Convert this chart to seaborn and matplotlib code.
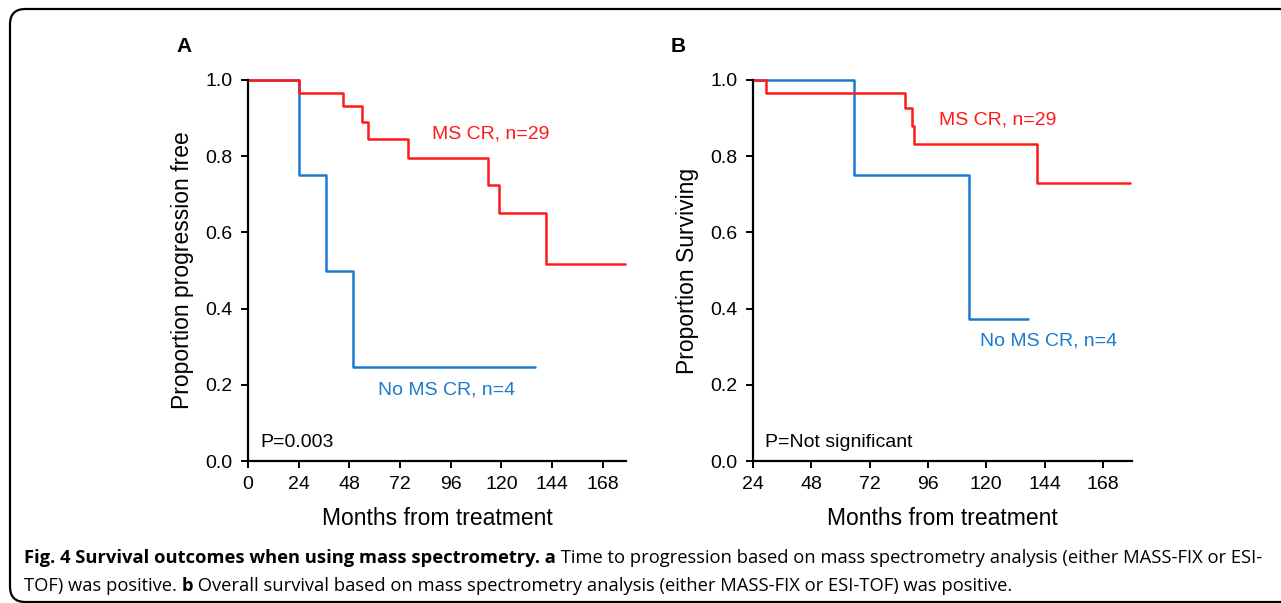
import numpy as np
import pandas as pd
import matplotlib
matplotlib.use("Agg")
import matplotlib.pyplot as plt
from matplotlib.patches import FancyBboxPatch
import seaborn as sns

# ------------------ DATA ------------------

GROUPS = ["No MS CR", "MS CR"]

# panel A: time to progression
a_cr_months = [0, 24, 45, 54, 57, 76, 113.5, 119, 141, 178.5]
a_cr_prop = [1.0, 0.966, 0.931, 0.889, 0.845, 0.796, 0.725, 0.652, 0.516, 0.516]
a_no_months = [0, 24, 37, 49.5, 136]
a_no_prop = [1.0, 0.75, 0.5, 0.246, 0.246]

# panel B: overall survival
b_cr_months = [24, 29.3, 86.5, 89.5, 90.4, 141, 179]
b_cr_prop = [1.0, 0.966, 0.926, 0.878, 0.831, 0.73, 0.73]
b_no_months = [24, 65.7, 113, 137]
b_no_prop = [1.0, 0.75, 0.373, 0.373]

a_xticks = [0, 24, 48, 72, 96, 120, 144, 168]
b_xticks = [24, 48, 72, 96, 120, 144, 168]
yticks = [0.0, 0.2, 0.4, 0.6, 0.8, 1.0]

caption_1 = [
    ("Fig. 4 Survival outcomes when using mass spectrometry. a", "bold"),
    (" Time to progression based on mass spectrometry analysis (either MASS-FIX or ESI-", "normal"),
]
caption_2 = [
    ("TOF) was positive. ", "normal"),
    ("b", "bold"),
    (" Overall survival based on mass spectrometry analysis (either MASS-FIX or ESI-TOF) was positive.", "normal"),
]

# ------------------ STYLE ------------------

sns.set_style("ticks")
plt.rcParams["font.family"] = ["Liberation Sans", "DejaVu Sans"]
plt.rcParams["text.color"] = "black"
plt.rcParams["axes.labelcolor"] = "black"
plt.rcParams["xtick.color"] = "black"
plt.rcParams["ytick.color"] = "black"

RED = "#ff1a1a"
BLUE = "#1a7bd0"
palette = {"MS CR": RED, "No MS CR": BLUE}


def make_df(cr_x, cr_y, no_x, no_y):
    return pd.concat([
        pd.DataFrame({"months": no_x, "prop": no_y, "group": "No MS CR"}),
        pd.DataFrame({"months": cr_x, "prop": cr_y, "group": "MS CR"}),
    ], ignore_index=True)


def km_panel(ax, df, xlim, xticks, ylabel):
    sns.lineplot(data=df, x="months", y="prop", hue="group", hue_order=GROUPS,
                 palette=palette, drawstyle="steps-post", estimator=None,
                 legend=False, linewidth=1.8, ax=ax)
    for ln in ax.get_lines():
        ln.set_clip_on(False)
    ax.set_xlim(*xlim)
    ax.set_ylim(0, 1.0)
    ax.set_xticks(xticks)
    ax.set_yticks(yticks)
    ax.set_yticklabels([f"{v:.1f}" for v in yticks])
    ax.set_xlabel("Months from treatment", fontsize=16.5, labelpad=10)
    ax.set_ylabel(ylabel, fontsize=16.5, labelpad=8)
    ax.tick_params(labelsize=14, length=5, width=1.4, pad=6, color="black")
    sns.despine(ax=ax)
    for sp in ["left", "bottom"]:
        ax.spines[sp].set_linewidth(1.6)
        ax.spines[sp].set_color("black")


fig = plt.figure(figsize=(12.81, 6.03), dpi=100)

ax_a = fig.add_axes([248 / 1281, 142 / 603, 378 / 1281, 381 / 603])
ax_b = fig.add_axes([753 / 1281, 142 / 603, 379 / 1281, 381 / 603])

km_panel(ax_a, make_df(a_cr_months, a_cr_prop, a_no_months, a_no_prop),
         (0, 179), a_xticks, "Proportion progression free")
km_panel(ax_b, make_df(b_cr_months, b_cr_prop, b_no_months, b_no_prop),
         (24, 180), b_xticks, "Proportion Surviving")

# curve labels
ax_a.text(87, 0.858, "MS CR, n=29", color=RED, fontsize=14, va="center")
ax_a.text(61.5, 0.186, "No MS CR, n=4", color=BLUE, fontsize=14, va="center")
ax_a.text(5.7, 0.048, "P=0.003", color="black", fontsize=14, va="center")

ax_b.text(100.6, 0.895, "MS CR, n=29", color=RED, fontsize=14, va="center")
ax_b.text(117.4, 0.316, "No MS CR, n=4", color=BLUE, fontsize=14, va="center")
ax_b.text(28.9, 0.048, "P=Not significant", color="black", fontsize=14, va="center")

# panel letters
fig.text(176 / 1281, 1 - 46.5 / 603, "A", fontsize=15, fontweight="bold", va="center")
fig.text(671 / 1281, 1 - 46.5 / 603, "B", fontsize=15, fontweight="bold", va="center")

# ------------------ CAPTION ------------------

fig.canvas.draw()
renderer = fig.canvas.get_renderer()


def write_runs(runs, x_px, y_px, size):
    x = x_px
    for txt, weight in runs:
        t = fig.text(x / 1281, 1 - y_px / 603, txt, fontsize=size, fontweight=weight,
                     family=["Open Sans", "DejaVu Sans"], va="baseline", ha="left")
        bb = t.get_window_extent(renderer=renderer)
        x += bb.width


write_runs(caption_1, 24, 563, 13.25)
write_runs(caption_2, 24, 591, 13.25)

# rounded frame around the figure
frame = FancyBboxPatch((10 / 1281, 1 / 603), 1.2, 1 - 10 / 603,
                       boxstyle="round,pad=0,rounding_size=0.012",
                       transform=fig.transFigure, fill=False,
                       edgecolor="black", linewidth=1.6, mutation_aspect=1281 / 603)
fig.patches.append(frame)

plt.savefig("out.png", dpi=100)
plt.close()
